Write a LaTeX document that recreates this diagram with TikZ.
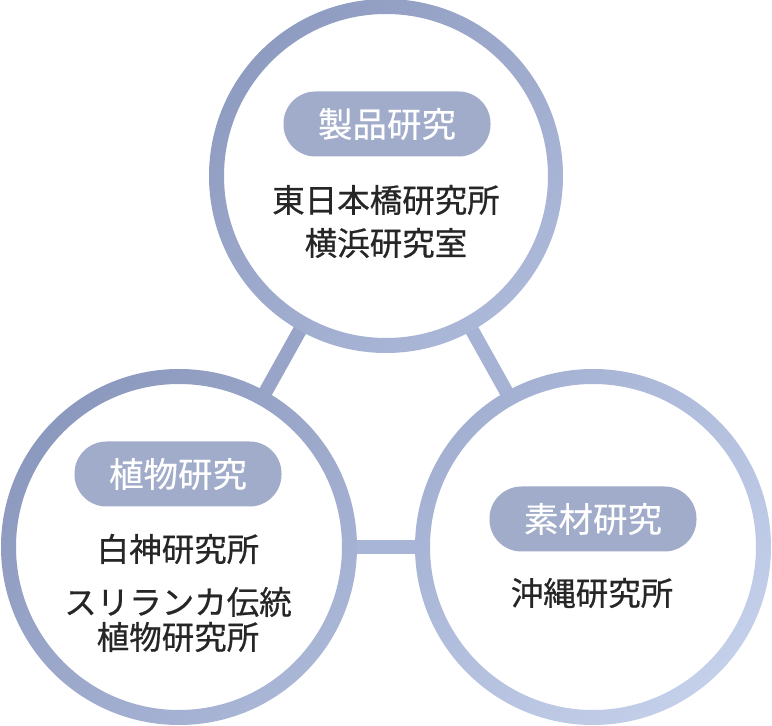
\documentclass[tikz,border=0pt]{standalone}
\usepackage{fontspec}
\newfontfamily\jp[FakeBold=0.6]{Noto Sans CJK JP}
\newfontfamily\jppill[FakeBold=0.4]{Noto Sans CJK JP}
\definecolor{pillfill}{HTML}{A1ACCA}
\definecolor{bodytext}{HTML}{262626}
\definecolor{linkA}{HTML}{98A5C8}
\definecolor{linkB}{HTML}{A6B3D4}
\definecolor{linkC}{HTML}{A8B5D6}
\definecolor{ringTa}{HTML}{8F9CC1}
\definecolor{ringTb}{HTML}{ACB8D8}
\definecolor{ringLa}{HTML}{8C99BE}
\definecolor{ringLb}{HTML}{AAB6D6}
\definecolor{ringRa}{HTML}{A3B0D2}
\definecolor{ringRb}{HTML}{C4D0EA}
\tikzset{
  link/.style={line width=14pt},
  disc/.style={circle, fill=white, draw=none, minimum size=328pt, inner sep=0pt},
  pill/.style={fill=pillfill, rounded corners=32pt, minimum width=207pt, minimum height=65pt,
    inner sep=0pt, text=white, font=\jppill\fontsize{34.5}{40}\selectfont},
  body/.style={text=bodytext, font=\jp\fontsize{32.5}{38}\selectfont, inner sep=0pt}
}
\begin{document}
\begin{tikzpicture}[x=1pt,y=1pt]
\useasboundingbox (0,0) rectangle (772,726);
% centres
\coordinate (cT) at (386,550);
\coordinate (cL) at (179,179);
\coordinate (cR) at (593,179);
% connectors
\draw[link, linkA] (cT) -- (cL);
\draw[link, linkB] (cT) -- (cR);
\draw[link, linkC] (cL) -- (cR);
% white discs
\node[disc] (top) at (cT) {};
\node[disc] (left) at (cL) {};
\node[disc] (right) at (cR) {};
% rings
\shade[even odd rule, top color=ringTa, bottom color=ringTb, shading angle=45]
  (top.center) circle (177pt) (top.center) circle (162pt);
\shade[even odd rule, top color=ringLa, bottom color=ringLb, shading angle=45]
  (left.center) circle (178pt) (left.center) circle (163pt);
\shade[even odd rule, top color=ringRa, bottom color=ringRb, shading angle=45]
  (right.center) circle (178pt) (right.center) circle (163pt);
% top circle
\node[pill] (pT) at (387,602) {製品研究};
\node[body] (t1) at (386,526) {東日本橋研究所};
\node[body] (t2) at (386,483) {横浜研究室};
% left circle
\node[pill] (pL) at (178,252) {植物研究};
\node[body] (l1) at (178,177) {白神研究所};
\node[body] (l2) at (178,124) {スリランカ伝統};
\node[body] (l3) at (178,89) {植物研究所};
% right circle
\node[pill] (pR) at (593,207) {素材研究};
\node[body] (r1) at (592,133) {沖縄研究所};
\end{tikzpicture}
\end{document}
